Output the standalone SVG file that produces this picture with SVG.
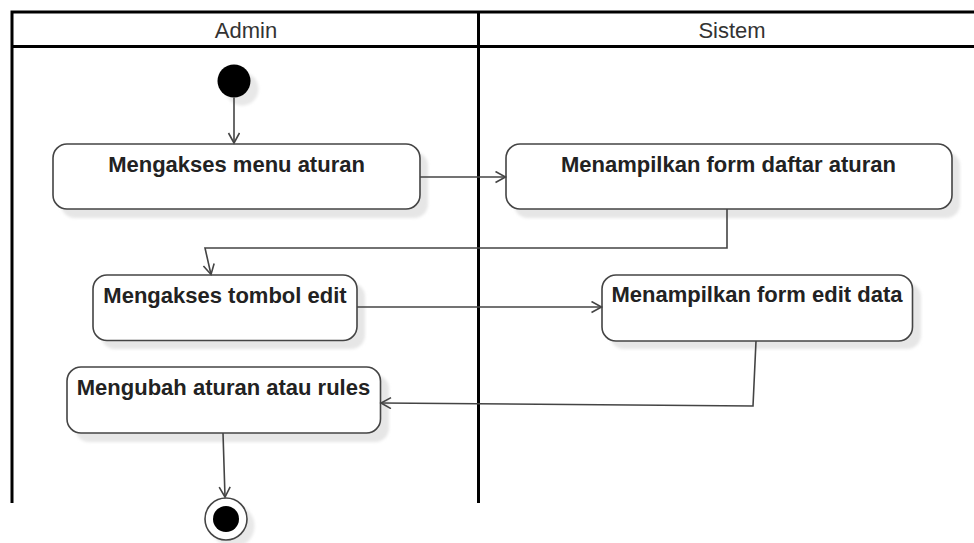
<svg xmlns="http://www.w3.org/2000/svg" width="974" height="543" viewBox="0 0 974 543">
<style>
.lane{fill:none;stroke:#000;stroke-width:3}
.hdr{font-family:"Liberation Sans",Arial,sans-serif;font-size:22px;fill:#333;text-anchor:middle}
.box{fill:#fff;stroke:#444;stroke-width:1.6}
.shd{fill:#e6e6e6;filter:url(#blur)}
.lbl{font-family:"Liberation Sans",Arial,sans-serif;font-size:22px;font-weight:bold;fill:#222;text-anchor:middle}
.con{fill:none;stroke:#444;stroke-width:1.6;marker-end:url(#arr)}
</style>
<defs>
<filter id="blur" x="-10%" y="-10%" width="120%" height="120%"><feGaussianBlur stdDeviation="1.5"/></filter>
<marker id="arr" markerUnits="userSpaceOnUse" markerWidth="14" markerHeight="14" refX="11" refY="6" orient="auto">
<path d="M1,0.5 L11,6 L1,11.5" fill="none" stroke="#444" stroke-width="1.6"/>
</marker>
</defs>
<rect width="974" height="543" fill="#fff"/>
<g id="swimlanes">
<path class="lane" d="M12,503 V12 H980 M12,46.5 H980 M478.5,12 V503"/>
<text class="hdr" x="246" y="38">Admin</text>
<text class="hdr" x="732" y="38">Sistem</text>
</g>
<g id="start">
<circle cx="242" cy="89" r="16.5" fill="#e8e8e8" filter="url(#blur)"/>
<circle cx="234" cy="81" r="16.5" fill="#000"/>
</g>
<g id="n1">
<rect class="shd" x="61" y="152" width="367" height="66" rx="14"/>
<rect class="box" x="53" y="144" width="367" height="65" rx="14"/>
<text class="lbl" x="236.5" y="172">Mengakses menu aturan</text>
</g>
<g id="n2">
<rect class="shd" x="514" y="152" width="446" height="66" rx="14"/>
<rect class="box" x="506" y="144" width="446" height="65" rx="14"/>
<text class="lbl" x="728.5" y="172">Menampilkan form daftar aturan</text>
</g>
<g id="n3">
<rect class="shd" x="101" y="283" width="264" height="66" rx="14"/>
<rect class="box" x="93" y="275" width="264" height="65.5" rx="14"/>
<text class="lbl" x="225" y="303">Mengakses tombol edit</text>
</g>
<g id="n4">
<rect class="shd" x="610" y="283" width="311" height="66" rx="14"/>
<rect class="box" x="602" y="275" width="310.5" height="66" rx="14"/>
<text class="lbl" x="757" y="302">Menampilkan form edit data</text>
</g>
<g id="n5">
<rect class="shd" x="75" y="375" width="314" height="67" rx="14"/>
<rect class="box" x="67" y="367" width="313.5" height="66" rx="14"/>
<text class="lbl" x="223.5" y="395">Mengubah aturan atau rules</text>
</g>
<g id="end">
<circle cx="233" cy="526" r="21.5" fill="#e8e8e8" filter="url(#blur)"/>
<circle cx="226" cy="519" r="21" fill="#fff" stroke="#444" stroke-width="1.6"/>
<circle cx="226" cy="519" r="13" fill="#000"/>
</g>
<g id="connectors">
<path class="con" d="M234,97.5 L234,143"/>
<path class="con" d="M420,177 L505.5,177"/>
<path class="con" d="M727,209 L727,248 L205,248 L211,274.5"/>
<path class="con" d="M357,307 L601.5,307"/>
<path class="con" d="M756,341 L753,406 L381,403"/>
<path class="con" d="M223,433 L225,497"/>
</g>
</svg>
